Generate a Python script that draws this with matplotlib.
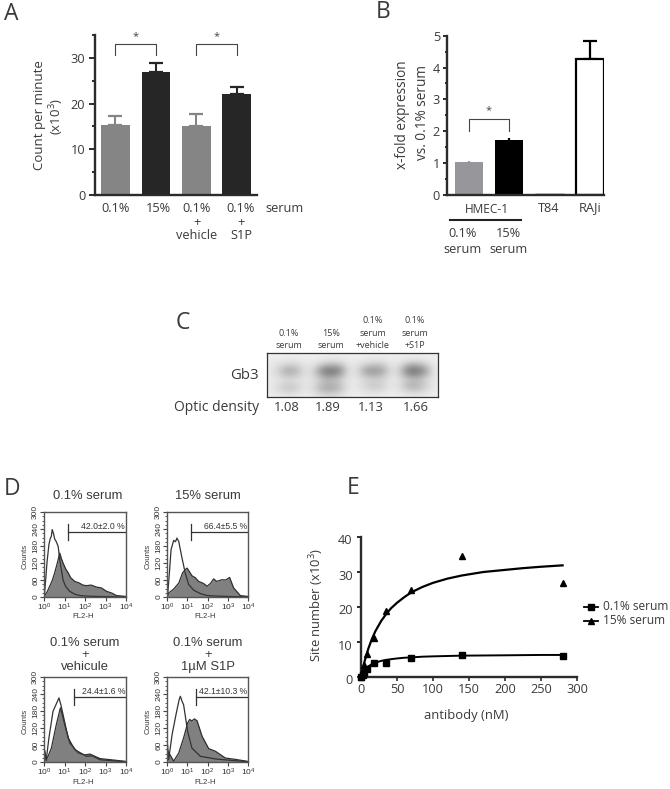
#!/usr/bin/env python
import numpy as np
import matplotlib
matplotlib.use('Agg')
import matplotlib.pyplot as plt
from matplotlib.transforms import ScaledTranslation

W, H = 670, 789
DARK = '#2b2b2b'
TXT = '#3a3a3a'
plt.rcParams['font.family'] = ['Open Sans', 'DejaVu Sans']
plt.rcParams['mathtext.default'] = 'regular'

# panel A
a_labels = ['0.1%', '15%', '0.1%\n+\nvehicle', '0.1%\n+\nS1P']
a_values = [15.4, 26.9, 15.0, 22.0]
a_errors = [1.8, 1.9, 2.8, 1.6]
a_colors = ['#858585', '#262626', '#858585', '#262626']

# panel B
b_values = [1.03, 1.72, 0.03, 4.28]
b_errors = [0.03, 0.08, 0.0, 0.55]
b_colors = ['#97979b', '#000000', '#000000', '#ffffff']

# panel C
c_labels = ['0.1%\nserum', '15%\nserum', '0.1%\nserum\n+vehicle', '0.1%\nserum\n+S1P']
c_density = ['1.08', '1.89', '1.13', '1.66']
blot = [
    [236, 235, 234, 234, 235, 235, 234, 233, 232, 234, 235, 234, 233, 232, 233, 234, 232, 232, 233, 235],
    [232, 230, 224, 226, 232, 231, 225, 220, 222, 231, 231, 226, 222, 224, 231, 229, 220, 218, 226, 232],
    [230, 215, 195, 205, 226, 222, 180, 160, 170, 225, 226, 195, 180, 185, 226, 220, 160, 150, 185, 230],
    [228, 195, 155, 175, 222, 205, 115, 95, 120, 218, 220, 150, 135, 150, 222, 200, 105, 95, 140, 228],
    [228, 205, 175, 190, 222, 210, 140, 120, 150, 220, 222, 175, 160, 175, 222, 210, 135, 125, 165, 228],
    [230, 222, 212, 218, 226, 218, 185, 170, 195, 226, 228, 210, 198, 208, 228, 222, 190, 175, 205, 230],
    [230, 212, 192, 205, 226, 215, 170, 160, 180, 226, 228, 205, 190, 200, 228, 218, 170, 165, 195, 230],
    [230, 210, 190, 205, 228, 212, 165, 160, 180, 228, 230, 215, 205, 212, 230, 222, 190, 185, 208, 232],
    [234, 228, 222, 226, 232, 228, 210, 205, 216, 232, 234, 230, 228, 230, 234, 232, 226, 224, 230, 234],
]

# panel D, log10 of FL2-H and counts
d1_open_x = [0.02, 0.08, 0.15, 0.24, 0.3, 0.36, 0.4, 0.46, 0.52, 0.6, 0.69, 0.78, 0.93, 1.05, 1.25, 1.5, 1.75, 2.1, 2.6, 3.2, 4.0]
d1_open_y = [5, 60, 125, 185, 205, 215, 238, 225, 205, 195, 179, 125, 60, 38, 20, 10, 5, 3, 2, 1, 0]
d1_fill_x = [0.02, 0.15, 0.28, 0.4, 0.52, 0.65, 0.77, 0.85, 0.93, 1.05, 1.18, 1.3, 1.5, 1.7, 1.9, 2.07, 2.3, 2.56, 2.8, 3.05, 3.3, 3.54, 4.0]
d1_fill_y = [3, 18, 38, 58, 85, 120, 155, 135, 120, 100, 85, 68, 55, 50, 42, 40, 42, 35, 32, 20, 14, 5, 2]
d2_open_x = [0.03, 0.13, 0.2, 0.33, 0.42, 0.49, 0.58, 0.74, 0.9, 1.07, 1.32, 1.65, 1.98, 2.5, 4.0]
d2_open_y = [5, 96, 167, 200, 195, 208, 196, 138, 85, 44, 24, 12, 5, 3, 0]
d2_fill_x = [0.03, 0.08, 0.33, 0.58, 0.77, 0.88, 0.99, 1.1, 1.23, 1.4, 1.56, 1.8, 1.98, 2.15, 2.3, 2.45, 2.72, 2.9, 3.09, 3.29, 3.62, 4.0]
d2_fill_y = [4, 14, 28, 49, 85, 95, 102, 90, 75, 68, 55, 48, 38, 48, 64, 55, 61, 60, 69, 32, 5, 2]
d3_open_x = [0.03, 0.11, 0.24, 0.44, 0.6, 0.73, 0.83, 0.93, 1.18, 1.5, 2.07, 2.35, 2.73, 3.4, 4.0]
d3_open_y = [40, 8, 85, 179, 205, 226, 200, 167, 85, 44, 20, 22, 8, 4, 1]
d3_fill_x = [0.03, 0.11, 0.36, 0.6, 0.8, 0.9, 1.01, 1.26, 1.67, 2.0, 2.24, 2.73, 3.38, 4.0]
d3_fill_y = [40, 5, 49, 132, 191, 165, 132, 67, 32, 25, 28, 12, 7, 2]
d4_open_x = [0.03, 0.08, 0.25, 0.46, 0.6, 0.66, 0.74, 0.82, 1.02, 1.23, 1.65, 2.47, 4.0]
d4_open_y = [60, 8, 96, 173, 220, 232, 215, 202, 108, 49, 20, 10, 1]
d4_fill_x = [0.03, 0.33, 0.58, 0.82, 1.02, 1.12, 1.23, 1.35, 1.48, 1.6, 1.73, 2.06, 2.39, 2.88, 3.4, 4.0]
d4_fill_y = [40, 3, 32, 85, 138, 150, 145, 152, 146, 120, 91, 47, 38, 14, 9, 2]
d_titles = ['0.1% serum', '15% serum', '0.1% serum\n+\nvehicule', '0.1% serum\n+\n1\u00b5M S1P']
d_gates = ['42.0\u00b12.0 %', '66.4\u00b15.5 %', '24.4\u00b11.6 %', '42.1\u00b110.3 %']
d_gate_x = [1.18, 1.17, 1.45, 1.45]

# panel E
e_dose = [0, 2.2, 4.4, 8.75, 17.5, 35, 70, 140, 280]
e_low = [0, 0.5, 1.2, 2.3, 4.0, 3.9, 5.4, 6.4, 6.0]
e_high = [0, 1.0, 3.3, 6.7, 11.1, 19.0, 25.0, 34.7, 26.8]
e_fit_x = [0, 2, 5, 10, 15, 20, 28, 35, 42, 50, 60, 70, 85, 100, 120, 140, 170, 200, 225, 250, 280]
e_fit_low = [0, 0.9, 1.9, 3.0, 3.7, 4.1, 4.6, 4.9, 5.1, 5.3, 5.5, 5.6, 5.8, 5.9, 6.0, 6.1, 6.15, 6.2, 6.25, 6.3, 6.3]
e_fit_high = [0, 1.9, 4.5, 8.0, 10.8, 13.1, 16.0, 18.0, 19.7, 21.2, 22.8, 24.2, 25.7, 26.9, 28.1, 29.0, 30.0, 30.6, 31.1, 31.5, 31.9]


def px_axes(left, top, right, bottom):
    return fig.add_axes([left / W, 1 - bottom / H, (right - left) / W, (bottom - top) / H])


def label(x, y, s, size=9.2, **kw):
    kw.setdefault('ha', 'center')
    kw.setdefault('va', 'center')
    kw.setdefault('color', TXT)
    over.text(x, y, s, fontsize=size, **kw)


def style_axis(ax):
    for s in ['top', 'right']:
        ax.spines[s].set_visible(False)
    for s in ['left', 'bottom']:
        ax.spines[s].set_linewidth(1.7)
        ax.spines[s].set_color(DARK)
    ax.tick_params(axis='y', which='major', length=4, width=1.4, color=DARK, pad=3,
                   labelsize=9.2, labelcolor=TXT)
    ax.tick_params(axis='y', which='minor', length=2.5, width=1.4, color=DARK)
    ax.patch.set_alpha(0)


def bracket(ax, x0, x1, low, high, star_y):
    ax.plot([x0, x0, x1, x1], [low, high, high, low], color='#444444', lw=0.8, clip_on=False)
    ax.text((x0 + x1) / 2, star_y, '*', ha='center', va='center', fontsize=8, color='#444444')


fig = plt.figure(figsize=(W / 100, H / 100), dpi=100)
over = fig.add_axes([0, 0, 1, 1], zorder=5)
over.set_xlim(0, W)
over.set_ylim(H, 0)
over.axis('off')

# ---- A
ax = px_axes(95, 35, 257, 195)
pos = np.arange(4)
ax.bar(pos, a_values, width=0.71, color=a_colors, zorder=2)
for i in range(4):
    ax.errorbar(pos[i], a_values[i], yerr=[[0], [a_errors[i]]], color=a_colors[i],
                capsize=5, elinewidth=1.5, capthick=1.6, zorder=1)
bracket(ax, 0, 1, 30.6, 33.1, 34.6)
bracket(ax, 2, 3, 30.6, 33.1, 34.6)
ax.set_xlim(-0.507, 3.5)
ax.set_ylim(0, 35)
ax.set_yticks([0, 10, 20, 30])
ax.set_yticks([5, 15, 25, 35], minor=True)
ax.set_xticks([])
style_axis(ax)
for cx, s in zip([115.5, 158, 197, 241], a_labels):
    label(cx, 202, s, va='top', linespacing=1.05)
label(285, 202, 'serum', va='top')
label(40, 115, 'Count per minute', size=9.5, rotation=90)
label(57, 116, '(x10$^3$)', size=9.5, rotation=90)
label(11, 14, 'A', size=16.5)

# ---- B
ax = px_axes(447, 35.7, 604, 195)
ax.bar(pos, b_values, width=0.7, color=b_colors, edgecolor='black',
       linewidth=[0, 0, 1, 1.6], zorder=2)
for i in range(4):
    if b_errors[i] > 0:
        ax.errorbar(pos[i], b_values[i], yerr=[[0], [b_errors[i]]], color='#000000' if i else '#97979b',
                    capsize=5 if i == 3 else 0, elinewidth=1.6, capthick=1.6, zorder=1)
bracket(ax, 0, 1, 2.0, 2.38, 2.65)
ax.set_xlim((447 - 468.7) / 40.4, (604 - 468.7) / 40.4)
ax.set_ylim(0, 5)
ax.set_yticks(range(6))
ax.set_yticks([0.5, 1.5, 2.5, 3.5, 4.5], minor=True)
ax.set_xticks([])
style_axis(ax)
ax.tick_params(axis='y', which='major', length=3, pad=2)
ax.tick_params(axis='y', which='minor', length=1.5)
label(487, 209, 'HMEC-1', size=8.6)
label(549, 208, 'T84')
label(590, 208, 'RAJi')
over.plot([450, 521], [220, 220], color='#222222', lw=1.5)
label(463, 233, '0.1%')
label(508, 233, '15%')
label(463, 249, 'serum')
label(508, 249, 'serum')
label(402, 115, 'x-fold expression', size=9.8, rotation=90)
label(422, 112, 'vs. 0.1% serum', size=9.8, rotation=90)
label(383, 12, 'B', size=16.5)

# ---- C
ax = px_axes(267, 353, 438, 397)
ax.imshow(blot, cmap='gray', vmin=-40, vmax=255, aspect='auto', interpolation='bicubic')
ax.set_xticks([])
ax.set_yticks([])
for s in ax.spines.values():
    s.set_linewidth(0.9)
    s.set_color('#333333')
for cx, s, d, dx in zip([289, 331, 373, 415], c_labels, c_density, [287, 328, 371, 416]):
    label(cx, 350, s, size=6.5, va='bottom', linespacing=1.5)
    label(dx, 407, d, size=9.4)
label(259, 375, 'Gb3', size=10.8, ha='right')
label(259, 407, 'Optic density', size=10, ha='right')
label(183, 323, 'C', size=16.5)

# ---- D
d_rects = [(44, 512, 126, 597), (167, 512, 248, 597), (44, 677, 126, 762), (167, 677, 248, 762)]
d_open = [(d1_open_x, d1_open_y), (d2_open_x, d2_open_y), (d3_open_x, d3_open_y), (d4_open_x, d4_open_y)]
d_fill = [(d1_fill_x, d1_fill_y), (d2_fill_x, d2_fill_y), (d3_fill_x, d3_fill_y), (d4_fill_x, d4_fill_y)]
d_title_xy = [(88, 496), (208, 496), (85, 655), (208, 655)]
GREY = '#444444'
for i in range(4):
    l, t, r, b = d_rects[i]
    ax = px_axes(l, t, r, b)
    fx = 10.0 ** np.array(d_fill[i][0])
    ox = 10.0 ** np.array(d_open[i][0])
    ax.fill_between(fx, d_fill[i][1], color='#808080', lw=0)
    ax.plot(fx, d_fill[i][1], color='#2f2f2f', lw=0.9)
    ax.plot(ox, d_open[i][1], color='#333333', lw=0.9)
    ax.set_xscale('log')
    ax.set_xlim(1, 1e4)
    ax.set_ylim(0, 300)
    ax.set_yticks([0, 60, 120, 180, 240, 300])
    ax.set_yticks(range(0, 300, 15), minor=True)
    ax.set_xticks([1, 10, 100, 1000, 10000])
    ax.set_xticklabels(['10$^%d$' % k for k in range(5)], fontfamily='Liberation Sans')
    ax.tick_params(axis='both', which='major', length=3, width=0.8, color=GREY, labelsize=6,
                   labelcolor='#333333', pad=0.5)
    ax.tick_params(axis='both', which='minor', length=1.5, width=0.6, color=GREY)
    ax.tick_params(axis='x', which='minor', labelbottom=False)
    ax.tick_params(axis='y', labelrotation=90)
    for lab in ax.get_yticklabels():
        lab.set_va('center')
        lab.set_fontfamily('Liberation Sans')
    for s in ax.spines.values():
        s.set_linewidth(1.0)
        s.set_color('#555555')
    gx = 10.0 ** d_gate_x[i]
    ax.plot([gx, gx], [202, 258], color='#333333', lw=0.9)
    ax.plot([gx, 1e4], [230, 230], color='#333333', lw=0.9)
    ax.text(10.0 ** 4 * 0.9, 234, d_gates[i], ha='right', va='bottom', fontsize=6.2,
            family='Liberation Sans', color='#333333')
    label(l - 19, (t + b) / 2 + 2, 'Counts', size=5.8, rotation=90, family='Liberation Sans')
    label((l + r) / 2 - 2, b + 20, 'FL2-H', size=5.6, family='Liberation Sans')
    label(d_title_xy[i][0], d_title_xy[i][1], d_titles[i], size=9.4, family='Liberation Sans',
          linespacing=1.0)
label(12, 489, 'D', size=16.5)

# ---- E
ax = px_axes(361, 537, 577, 677)
ax.plot(e_fit_x, e_fit_low, color='black', lw=1.4, clip_on=False)
ax.plot(e_fit_x, e_fit_high, color='black', lw=1.6, clip_on=False)
ax.plot(e_dose, e_low, 's', color='black', ms=4.2, clip_on=False, zorder=4)
ax.plot(e_dose, e_high, '^', color='black', ms=4.2, clip_on=False, zorder=4)
ax.set_xlim(0, 300)
ax.set_ylim(0, 40)
ax.set_xticks(range(0, 301, 50))
ax.set_yticks(range(0, 41, 10))
style_axis(ax)
ax.tick_params(axis='x', length=3, width=1.2, color=DARK, labelsize=9.2, labelcolor=TXT, pad=1.5)
ax.tick_params(axis='y', length=3, pad=3)
# y labels sit a little below their ticks
shift = ScaledTranslation(0, -2.5 / 100, fig.dpi_scale_trans)
for lab in ax.get_yticklabels():
    lab.set_transform(lab.get_transform() + shift)
# legend handles
hl, = over.plot([584, 591, 598], [607, 607, 607], '-s', color='black', lw=1.3, ms=4, markevery=[1])
hh, = over.plot([584, 591, 598], [621, 621, 621], '-^', color='black', lw=1.3, ms=4, markevery=[1])
label(603, 607, '0.1% serum', ha='left', size=8.6)
label(603, 621, '15% serum', ha='left', size=8.6)
label(466, 715, 'antibody (nM)', size=9.4)
label(317, 605, 'Site number (x10$^3$)', size=9.4, rotation=90)
label(353, 488, 'E', size=16.5)

fig.savefig('out.png', dpi=100)
